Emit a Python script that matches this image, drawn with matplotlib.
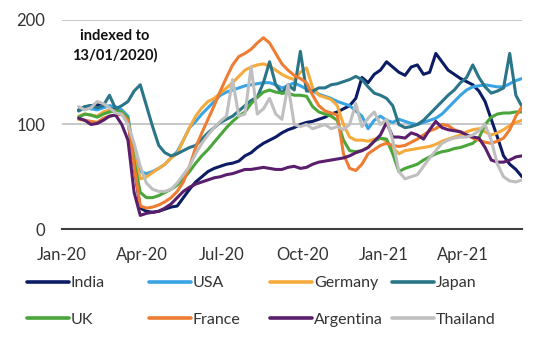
import matplotlib
matplotlib.use("Agg")
import matplotlib.pyplot as plt
import matplotlib.dates as mdates
import pandas as pd

plt.rcParams['font.family'] = ['Lato', 'DejaVu Sans']

# weekly readings, indexed to 13/01/2020
dates = pd.date_range('2020-01-20', periods=73, freq='7D')

india = [114, 117, 118, 119, 118, 117, 116, 113, 105,
         60, 20, 17, 16, 17, 19, 21,
         22, 30, 38, 45, 50, 55, 58, 60, 62, 63, 65, 70, 73, 78, 82, 85, 88, 92, 95, 97,
         100, 102, 103, 105, 107, 110, 112, 115, 118,
         125, 145, 140, 148, 152, 160, 155, 150, 147, 155, 157, 148, 150, 168, 160, 152,
         148, 144, 141, 138, 132, 122, 105, 88, 70, 62, 57, 50]
usa = [113, 116, 115, 114, 116, 118, 117, 114, 108,
       70, 55, 53, 55, 58, 62, 68,
       74, 85, 97, 103, 110, 116, 122, 128, 131, 133, 135, 137, 138, 139, 140, 140, 138, 135, 137, 140,
       137, 134, 132, 129, 127, 125, 122, 120, 118,
       113, 108, 96, 104, 108, 104, 102, 105, 103, 101, 100, 102, 104, 106, 110, 116,
       122, 128, 133, 136, 137, 138, 137, 136, 136, 139, 142, 144]
germany = [108, 110, 109, 108, 112, 114, 113, 112, 105,
           70, 48, 50, 54, 58, 62, 68,
           72, 85, 97, 108, 116, 122, 125, 130, 135, 140, 146, 152, 155, 157, 158, 156, 152, 148, 145, 143,
           150, 154, 135, 128, 126, 124, 118, 100, 88,
           85, 85, 84, 86, 87, 84, 78, 72, 75, 76, 77, 78, 79, 81, 84, 86,
           88, 90, 93, 95, 96, 93, 90, 92, 95, 99, 102, 104]
japan = [113, 117, 118, 116, 118, 128, 115, 118, 122,
         132, 138, 118, 98, 80, 73, 70,
         72, 75, 78, 80, 86, 92, 97, 102, 105, 108, 113, 118, 123, 126, 140, 160, 138, 130, 138, 133,
         170, 132, 132, 135, 135, 138, 139, 141, 143,
         146, 143, 136, 130, 128, 125, 118, 100, 97, 98, 100, 104, 110, 116, 122, 128,
         133, 140, 145, 157, 145, 136, 130, 132, 135, 168, 128, 117]
uk = [107, 110, 109, 107, 110, 112, 113, 112, 106,
      65, 35, 30, 30, 32, 35, 38,
      42, 48, 55, 63, 70, 76, 83, 90, 97, 103, 108, 112, 120, 126, 131, 133, 131, 130, 130, 128,
      128, 127, 117, 112, 110, 108, 104, 85, 75,
      74, 75, 78, 84, 87, 86, 72, 55, 58, 60, 62, 66, 69, 72, 74, 75,
      77, 78, 80, 82, 87, 100, 107, 110, 111, 111, 112, 112]
france = [105, 104, 103, 102, 106, 108, 109, 110, 104,
          60, 22, 20, 21, 23, 26, 30,
          36, 45, 60, 78, 92, 105, 118, 132, 145, 157, 165, 168, 172, 178, 183, 178, 168, 158, 152, 147,
          144, 140, 128, 118, 113, 111, 109, 72, 58,
          56, 62, 72, 76, 80, 82, 80, 79, 80, 83, 86, 90, 94, 96, 100, 99,
          95, 93, 90, 87, 85, 83, 82, 84, 87, 95, 108, 117]
argentina = [106, 104, 100, 101, 104, 108, 109, 100, 85,
             35, 13, 15, 16, 17, 20, 24,
             30, 36, 40, 43, 45, 47, 49, 50, 52, 53, 55, 57, 57, 58, 59, 58, 57, 57, 59, 60,
             58, 59, 62, 64, 65, 66, 67, 68, 70,
             73, 75, 78, 84, 90, 102, 88, 88, 87, 92, 90, 86, 95, 103, 97, 95,
             94, 93, 90, 88, 87, 78, 66, 64, 64, 66, 69, 70]
thailand = [117, 114, 116, 122, 120, 116, 111, 110, 100,
            82, 60, 44, 38, 36, 36, 38,
            44, 52, 60, 72, 82, 90, 97, 103, 108, 143, 108, 110, 155, 110, 115, 125, 110, 105, 138, 100,
            98, 100, 96, 98, 100, 96, 98, 95, 100,
            120, 98, 106, 112, 100, 105, 85, 55, 48, 50, 52, 60, 68, 75, 82, 85,
            87, 88, 88, 90, 94, 100, 85, 62, 50, 46, 45, 47]

names = ['India', 'USA', 'Germany', 'Japan', 'UK', 'France', 'Argentina', 'Thailand']
series = [india, usa, germany, japan, uk, france, argentina, thailand]
colors = ['#0C1C64', '#3AA3E3', '#F5AA3C', '#2A7588',
          '#4AA63B', '#EE7D33', '#5A1E6C', '#BFBFBF']

fig = plt.figure(figsize=(5.39, 3.41), dpi=100)
ax = fig.add_axes([0.115, 0.3284, 0.8535, 0.613])

lines = []
for name, vals, col in zip(names, series, colors):
    ln, = ax.plot(dates, vals, color=col, linewidth=2.2, label=name,
                  solid_joinstyle='round', solid_capstyle='round')
    lines.append(ln)

ax.set_ylim(0, 200)
ax.set_yticks([0, 100, 200])
ax.set_xlim(pd.Timestamp('2020-01-01'), pd.Timestamp('2021-06-07'))
ax.xaxis.set_major_locator(mdates.MonthLocator(bymonth=[1, 4, 7, 10]))
ax.xaxis.set_major_formatter(mdates.DateFormatter('%b-%y'))

ax.grid(axis='y', color='#BFBFBF', linewidth=1.2)
ax.set_axisbelow(True)
for side in ['top', 'right', 'left']:
    ax.spines[side].set_visible(False)
ax.spines['bottom'].set_color('#404040')
ax.spines['bottom'].set_linewidth(1.5)
ax.tick_params(axis='both', length=0, labelsize=12, colors='#333333')
ax.tick_params(axis='y', pad=12)
ax.tick_params(axis='x', pad=13)

ax.text(0.115, 0.955, 'indexed to\n13/01/2020)', transform=ax.transAxes,
        ha='center', va='top', fontsize=10.5, fontweight='bold',
        color='#111111', linespacing=1.4)

# legend laid out as 4 columns of 2 rows
col_x = [27, 149, 270, 392]
for c in range(4):
    leg = fig.legend(handles=[lines[c], lines[c + 4]], loc='upper left',
                     bbox_to_anchor=(col_x[c] / 539, 1 - 276 / 341),
                     frameon=False, fontsize=11.5, handlelength=2.6,
                     handletextpad=0.15, labelspacing=1.4,
                     borderpad=0, borderaxespad=0)
    for t in leg.get_texts():
        t.set_color('#333333')
    for h in leg.get_lines():
        h.set_linewidth(2.6)

fig.savefig('out.png', dpi=100)
